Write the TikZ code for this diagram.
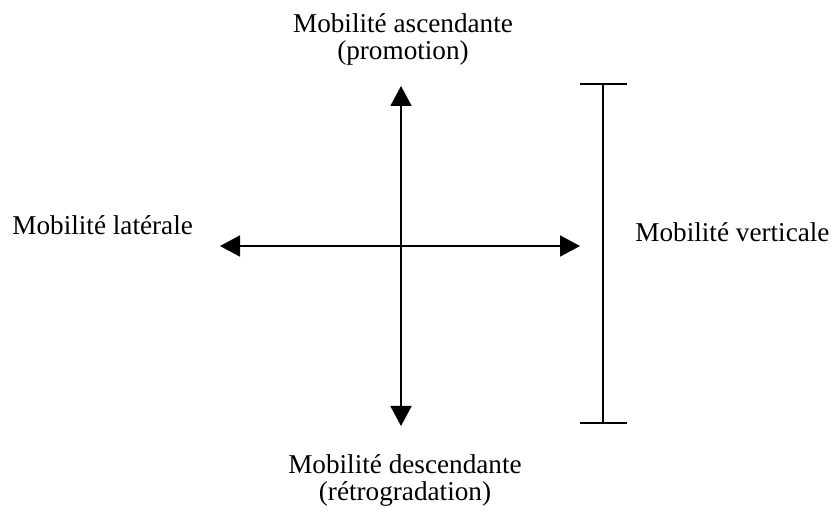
\documentclass[tikz,border=0pt]{standalone}
\usepackage{fontspec}
\setmainfont{Liberation Serif}
\usepackage{tikz}
\usetikzlibrary{arrows.meta}

\begin{document}
\begin{tikzpicture}[
    x=0.5pt,y=-0.5pt,
    label/.style={inner sep=0pt,font=\fontsize{13.6}{13.6}\selectfont,align=center},
    axis/.style={{Triangle[length=10pt,width=10.5pt]}-{Triangle[length=10pt,width=10.5pt]},line width=0.9pt},
    bar/.style={line width=0.9pt}
]
\useasboundingbox (0,0) rectangle (836,518);

% axes
\coordinate (up)    at (401,86);
\coordinate (down)  at (401,426);
\coordinate (left)  at (220,246);
\coordinate (right) at (580,246);

\draw[axis] (down) -- (up);
\draw[axis] (left) -- (right);

% vertical range
\coordinate (bartop) at (603,84);
\coordinate (barbot) at (603,423);
\draw[bar] (bartop) -- (barbot);
\draw[bar] ([xshift=-11.5pt]bartop) -- ([xshift=12pt]bartop);
\draw[bar] ([xshift=-11.5pt]barbot) -- ([xshift=12pt]barbot);

% labels (base = last line)
\node[label,anchor=base] (asc) at (403,60) {Mobilité ascendante\\(promotion)};
\node[label,anchor=base] (desc) at (405,501) {Mobilité descendante\\(rétrogradation)};
\node[label,anchor=base west] (lat) at (12,235) {Mobilité latérale};
\node[label,anchor=base west] (vert) at (635,242) {Mobilité verticale};
\end{tikzpicture}
\end{document}
